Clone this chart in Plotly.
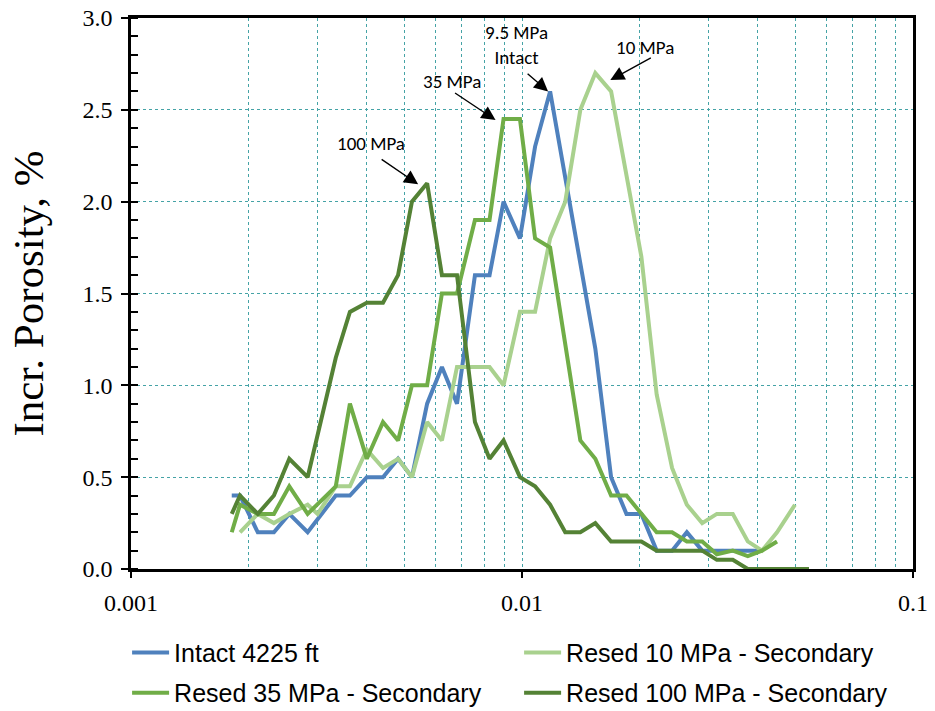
import math
import plotly.graph_objects as go

# Incremental porosity vs. pore-throat radius for the intact core and the resedimented samples
intact_x = [0.00181, 0.00190, 0.00211, 0.00232, 0.00254, 0.00283, 0.00334, 0.00363, 0.00401, 0.00441,
            0.00482, 0.00523, 0.00572, 0.00624, 0.00682, 0.00758, 0.00826, 0.00897, 0.00988, 0.0108,
            0.0118, 0.0154, 0.0169, 0.0185, 0.0202, 0.0221, 0.0242, 0.0264, 0.0289, 0.0411]
intact_y = [0.4, 0.4, 0.2, 0.2, 0.3, 0.2, 0.4, 0.4, 0.5, 0.5,
            0.6, 0.5, 0.9, 1.1, 0.9, 1.6, 1.6, 2.0, 1.8, 2.3,
            2.6, 1.2, 0.5, 0.3, 0.3, 0.1, 0.1, 0.2, 0.1, 0.1]

resed10_x = [0.00190, 0.00211, 0.00232, 0.00254, 0.00283, 0.00300, 0.00334, 0.00363, 0.00401, 0.00441,
             0.00482, 0.00523, 0.00572, 0.00624, 0.00682, 0.00758, 0.00826, 0.00897, 0.00988, 0.0108,
             0.0118, 0.0129, 0.0141, 0.0154, 0.0169, 0.0202, 0.0221, 0.0242, 0.0264, 0.0289,
             0.0315, 0.0346, 0.0378, 0.0411, 0.0449, 0.0499]
resed10_y = [0.2, 0.3, 0.25, 0.3, 0.35, 0.3, 0.45, 0.45, 0.65, 0.55,
             0.6, 0.5, 0.8, 0.7, 1.1, 1.1, 1.1, 1.0, 1.4, 1.4,
             1.8, 2.0, 2.5, 2.7, 2.6, 1.7, 0.95, 0.55, 0.35, 0.25,
             0.3, 0.3, 0.15, 0.1, 0.2, 0.35]

resed35_x = [0.00181, 0.00190, 0.00211, 0.00232, 0.00254, 0.00283, 0.00334, 0.00363, 0.00401, 0.00441,
             0.00482, 0.00523, 0.00572, 0.00624, 0.00682, 0.00758, 0.00826, 0.00897, 0.00988, 0.0108,
             0.0118, 0.0141, 0.0154, 0.0169, 0.0185, 0.0221, 0.0242, 0.0264, 0.0289, 0.0315,
             0.0346, 0.0378, 0.0411, 0.0449]
resed35_y = [0.2, 0.35, 0.3, 0.3, 0.45, 0.3, 0.45, 0.9, 0.6, 0.8,
             0.7, 1.0, 1.0, 1.5, 1.5, 1.9, 1.9, 2.45, 2.45, 1.8,
             1.75, 0.7, 0.6, 0.4, 0.4, 0.2, 0.2, 0.15, 0.15, 0.08,
             0.1, 0.07, 0.1, 0.15]

resed100_x = [0.00181, 0.00190, 0.00211, 0.00232, 0.00254, 0.00283, 0.00334, 0.00363, 0.00401, 0.00441,
              0.00482, 0.00523, 0.00572, 0.00624, 0.00682, 0.00758, 0.00826, 0.00897, 0.00988, 0.0108,
              0.0118, 0.0129, 0.0141, 0.0154, 0.0169, 0.0202, 0.0221, 0.0289, 0.0315, 0.0346,
              0.0378, 0.0542]
resed100_y = [0.3, 0.4, 0.3, 0.4, 0.6, 0.5, 1.15, 1.4, 1.45, 1.45,
              1.6, 2.0, 2.1, 1.6, 1.6, 0.8, 0.6, 0.7, 0.5, 0.45,
              0.35, 0.2, 0.2, 0.25, 0.15, 0.15, 0.1, 0.1, 0.05, 0.05,
              0.0, 0.0]

x_tick_vals = [0.001, 0.01, 0.1]
x_tick_text = ["0.001", "0.01", "0.1"]

BLUE = "#4F81BD"
LIGHT_GREEN = "#A9D18E"
GREEN = "#70AD47"
DARK_GREEN = "#548235"
GRID = "#45A3A6"

series = [
    ("Intact 4225 ft", intact_x, intact_y, BLUE, "legend"),
    ("Resed 10 MPa - Secondary", resed10_x, resed10_y, LIGHT_GREEN, "legend"),
    ("Resed 35 MPa - Secondary", resed35_x, resed35_y, GREEN, "legend2"),
    ("Resed 100 MPa - Secondary", resed100_x, resed100_y, DARK_GREEN, "legend2"),
]

fig = go.Figure()
for name, xs, ys, color, leg in series:
    fig.add_trace(go.Scatter(x=xs, y=ys, mode="lines", name=name, legend=leg,
                             line=dict(color=color, width=4)))


def peak(xs, ys):
    i = max(range(len(ys)), key=lambda k: ys[k])
    return xs[i], ys[i]


# Pressure callouts next to each curve's peak: label offset, arrow-tip offset, arrow tail offset (px).
# Annotation x on a log axis is given in log10 units.
callouts = [
    ("100 MPa", resed100_x, resed100_y, (-56, 40), (-9, -1), (-38, -26)),
    ("35 MPa", resed35_x, resed35_y, (-52, 38), (-8, -1), (-42, -28)),
    ("9.5 MPa<br>Intact", intact_x, intact_y, (-34, 46), (-2, 0), (-22, -19)),
    ("10 MPa", resed10_x, resed10_y, (50, 26), (15, -7), (42, -23)),
]
label_font = dict(family="Carlito, Lato, sans-serif", size=19, color="black")
for text, xs, ys, (tx, ty), (hx, hy), (ax, ay) in callouts:
    px, py = peak(xs, ys)
    fig.add_annotation(x=math.log10(px), y=py, xref="x", yref="y", text=text,
                       showarrow=False, xshift=tx, yshift=ty, font=label_font)
    fig.add_annotation(x=math.log10(px), y=py, xref="x", yref="y", text="",
                       showarrow=True, xshift=hx, yshift=hy, ax=ax, ay=ay,
                       arrowhead=2, arrowsize=2.0, arrowwidth=1.4, arrowcolor="black")

minor_x = [k * 10.0 ** e for e in (-3, -2) for k in range(2, 10)]

fig.update_xaxes(
    type="log", range=[-3, -1],
    tickvals=x_tick_vals, ticktext=x_tick_text,
    ticks="outside", ticklen=6, tickwidth=1.5, tickcolor="black", ticklabelstandoff=4,
    showline=True, linewidth=2.5, linecolor="black", mirror=True,
    showgrid=True, gridcolor=GRID, griddash="dot", gridwidth=1,
    minor=dict(tickvals=minor_x, showgrid=True, gridcolor=GRID, griddash="dot", gridwidth=1, ticks=""),
    tickfont=dict(family="Liberation Serif, Times New Roman, serif", size=24, color="black"),
    zeroline=False,
)
fig.update_yaxes(
    range=[0, 3], dtick=0.5, tickformat=".1f",
    ticks="outside", ticklen=7, tickwidth=1.5, tickcolor="black", ticklabelstandoff=4,
    minor=dict(dtick=0.1, ticks="inside", ticklen=7, tickwidth=1.5, tickcolor="black", showgrid=False),
    showline=True, linewidth=2.5, linecolor="black", mirror=True,
    showgrid=True, gridcolor=GRID, griddash="dot", gridwidth=1,
    tickfont=dict(family="Liberation Serif, Times New Roman, serif", size=24, color="black"),
    title=dict(text="Incr. Porosity, %", standoff=26,
               font=dict(family="Liberation Serif, Times New Roman, serif", size=43, color="black")),
    zeroline=False,
)

legend_font = dict(family="Liberation Sans, Arial, sans-serif", size=25, color="black")
fig.update_layout(
    width=935, height=711,
    margin=dict(l=131, r=22, t=18, b=142, autoexpand=False),
    plot_bgcolor="white", paper_bgcolor="white",
    showlegend=True,
    legend=dict(orientation="h", x=-0.005, xanchor="left", y=-0.152, yanchor="middle",
                entrywidth=340, itemwidth=37, font=legend_font, bgcolor="rgba(0,0,0,0)"),
    legend2=dict(orientation="h", x=-0.005, xanchor="left", y=-0.225, yanchor="middle",
                 entrywidth=340, itemwidth=37, font=legend_font, bgcolor="rgba(0,0,0,0)"),
)

fig.write_html("out.html")
